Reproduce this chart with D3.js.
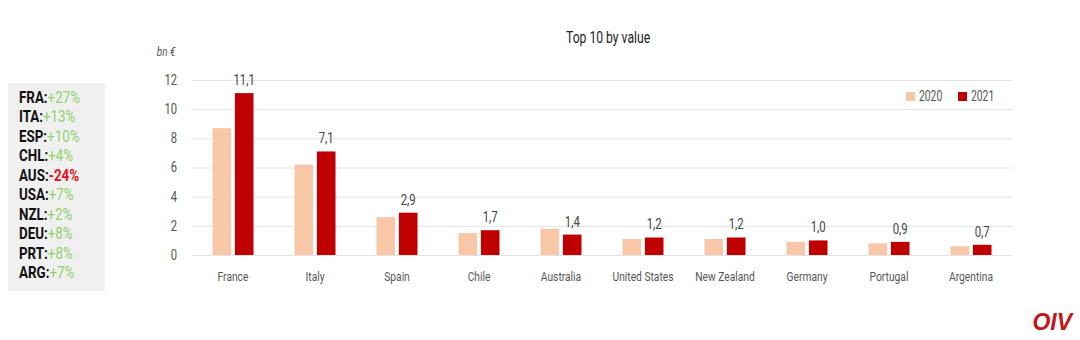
<!DOCTYPE html>
<html>
<head>
<meta charset="utf-8">
<script src="https://cdn.jsdelivr.net/npm/d3@7"></script>
<style>
  body { margin: 0; background: #fff; }
  svg text { font-family: 'Roboto', sans-serif; }
  .cc { transform: scaleX(0.76); transform-box: fill-box; transform-origin: center; }
  .cl { transform: scaleX(0.74); transform-box: fill-box; transform-origin: left; }
  .cs { transform: scaleX(0.81); transform-box: fill-box; transform-origin: left; }
  .cr { transform: scaleX(0.8); transform-box: fill-box; transform-origin: right; }
</style>
</head>
<body>
<svg id="svg" width="1080" height="340"></svg>
<script>
const countries = ['France', 'Italy', 'Spain', 'Chile', 'Australia', 'United States', 'New Zealand', 'Germany', 'Portugal', 'Argentina'];
const v2020 = [8.7, 6.2, 2.6, 1.5, 1.8, 1.1, 1.1, 0.9, 0.8, 0.6];
const v2021 = [11.1, 7.1, 2.9, 1.7, 1.4, 1.2, 1.2, 1.0, 0.9, 0.7];
const years = ['2020', '2021'];
const yTicks = [0, 2, 4, 6, 8, 10, 12];
const codes = ['FRA', 'ITA', 'ESP', 'CHL', 'AUS', 'USA', 'NZL', 'DEU', 'PRT', 'ARG'];
const changes = ['+27%', '+13%', '+10%', '+4%', '-24%', '+7%', '+2%', '+8%', '+8%', '+7%'];

const colors = { '2020': '#f7c7a8', '2021': '#c00000' };
const margin = { top: 80, right: 68, bottom: 85, left: 192 };
const width = 1080 - margin.left - margin.right;
const height = 340 - margin.top - margin.bottom;

const svg = d3.select('#svg');
const g = svg.append('g').attr('transform', 'translate(' + margin.left + ',' + margin.top + ')');

const x = d3.scaleBand().domain(countries).range([0, width]);
const xs = d3.scaleBand().domain(years).range([x.bandwidth() / 2 - 20.5, x.bandwidth() / 2 + 20.5]).paddingInner(0.17);
const y = d3.scaleLinear().domain([0, 12]).range([height, 0]);

// grid + y labels
const yAxis = g.append('g').call(d3.axisLeft(y).tickValues(yTicks).tickSize(-width).tickPadding(15));
yAxis.select('.domain').remove();
yAxis.selectAll('.tick line').attr('stroke', '#e3e3e3');
yAxis.selectAll('.tick text').attr('class', 'cr').attr('fill', '#555').style('font-size', '14px');

// x labels
const xAxis = g.append('g').attr('transform', 'translate(0,' + height + ')')
  .call(d3.axisBottom(x).tickSize(0).tickPadding(16));
xAxis.select('.domain').remove();
xAxis.selectAll('.tick text').attr('class', 'cc').attr('fill', '#555').style('font-size', '13.5px');

const rows = countries.map((c, i) => ({ country: c, '2020': v2020[i], '2021': v2021[i] }));

const grp = g.selectAll('.grp').data(rows).join('g')
  .attr('transform', d => 'translate(' + x(d.country) + ',0)');

grp.selectAll('rect').data(d => years.map(k => ({ key: k, value: d[k] }))).join('rect')
  .attr('x', d => xs(d.key))
  .attr('width', xs.bandwidth())
  .attr('y', d => y(d.value))
  .attr('height', d => y(0) - y(d.value))
  .attr('fill', d => colors[d.key]);

grp.append('text')
  .attr('class', 'cc')
  .attr('x', xs('2021') + xs.bandwidth() / 2)
  .attr('y', d => y(d['2021']) - 8)
  .attr('text-anchor', 'middle')
  .attr('fill', '#444')
  .style('font-size', '15px')
  .text(d => d3.format('.1f')(d['2021']).replace('.', ','));

// unit
svg.append('text').attr('class', 'cc').attr('x', 166).attr('y', 56).attr('text-anchor', 'middle')
  .attr('fill', '#555').style('font-size', '13px').style('font-style', 'italic').text('bn €');

// title
svg.append('text').attr('class', 'cc').attr('x', 608).attr('y', 43).attr('text-anchor', 'middle')
  .attr('fill', '#222').style('font-size', '16px').text('Top 10 by value');

// legend
const leg = svg.append('g').attr('transform', 'translate(906,90)');
years.forEach((k, i) => {
  const lg = leg.append('g').attr('transform', 'translate(' + (i * 52) + ',0)');
  lg.append('rect').attr('width', 9).attr('height', 9).attr('y', 2).attr('fill', colors[k]);
  lg.append('text').attr('class', 'cl').attr('x', 13).attr('y', 11).attr('fill', '#555').style('font-size', '14px').text(k);
});

// side box
svg.append('rect').attr('x', 8).attr('y', 83).attr('width', 97).attr('height', 208).attr('fill', '#f0f0f0');
const side = svg.append('g').attr('transform', 'translate(19,103)');
codes.forEach((c, i) => {
  const t = side.append('text').attr('class', 'cs').attr('y', i * 19.5).style('font-size', '16.5px').style('font-weight', 'bold');
  t.append('tspan').attr('fill', '#111').text(c + ':');
  t.append('tspan').attr('fill', changes[i][0] === '-' ? '#e8121a' : '#8fd16a')
    .style('font-weight', changes[i][0] === '-' ? 'bold' : 'normal').text(changes[i]);
});

// logo
svg.append('text').attr('x', 1072).attr('y', 330).attr('text-anchor', 'end')
  .attr('fill', '#c4161c').style('font-family', 'Liberation Sans, Arial, sans-serif')
  .style('font-size', '23px').style('font-weight', 'bold').style('font-style', 'italic').text('OIV');
</script>
</body>
</html>
